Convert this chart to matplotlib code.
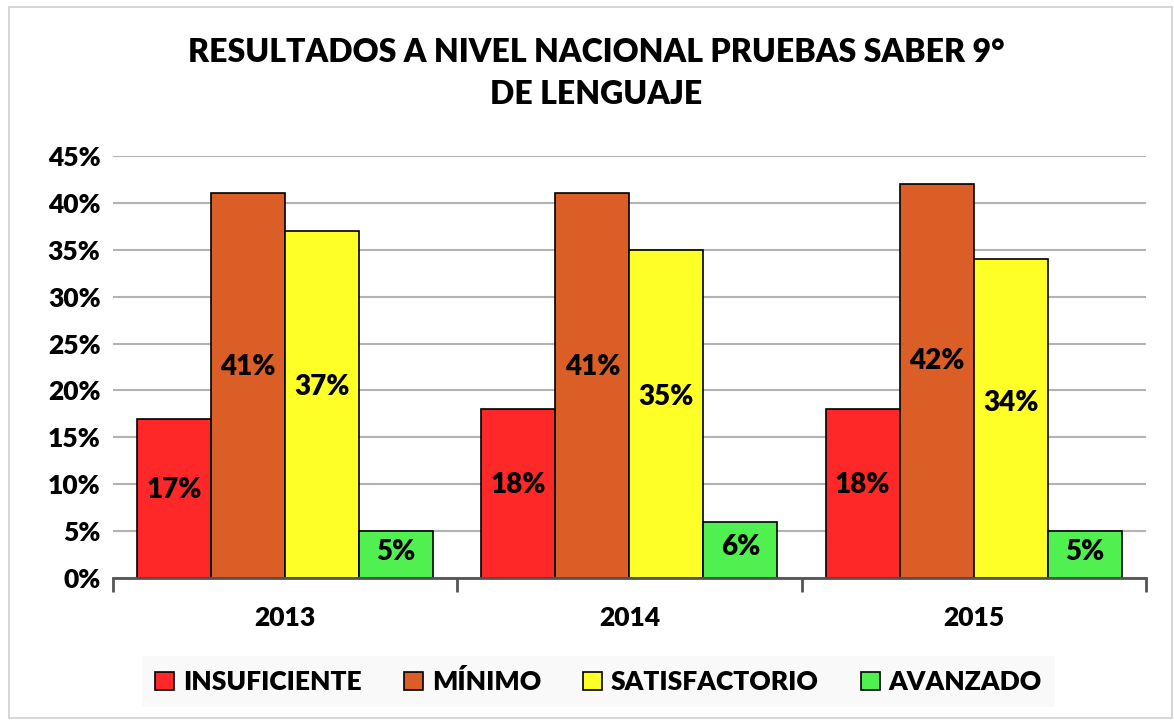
import matplotlib
matplotlib.use("Agg")
import matplotlib.pyplot as plt
import numpy as np
from matplotlib.patches import Rectangle

plt.rcParams['font.family'] = ['Lato', 'DejaVu Sans']
W = 'heavy'

years = ['2013', '2014', '2015']
series = ['INSUFICIENTE', 'MÍNIMO', 'SATISFACTORIO', 'AVANZADO']
insuficiente = [17, 18, 18]
minimo = [41, 41, 42]
satisfactorio = [37, 35, 34]
avanzado = [5, 6, 5]
colors = ['#FF2828', '#DA5E26', '#FFFF28', '#50F050']
yticks = [0, 5, 10, 15, 20, 25, 30, 35, 40, 45]

values = [insuficiente, minimo, satisfactorio, avanzado]

fig = plt.figure(figsize=(11.74, 7.22), dpi=100)
ax = fig.add_axes([0.0963, 0.1994, 0.8797, 0.5846])

x = np.arange(len(years))
bw = 0.215
for i, (name, vals, c) in enumerate(zip(series, values, colors)):
    pos = x + (i - 1.5) * bw
    ax.bar(pos, vals, width=bw, color=c, edgecolor='black', linewidth=1.2,
           label=name, zorder=3)
    for p, v in zip(pos, vals):
        ax.text(p, v * 0.55, f'{v}%', ha='center', va='center', fontsize=20,
                fontweight=W, color='black', zorder=4)

ax.set_xlim(-0.5, 2.5)
ax.set_ylim(0, 45)
ax.set_yticks(yticks)
ax.set_yticklabels([f'{t}%' for t in yticks], fontsize=19, fontweight=W)
ax.yaxis.grid(True, color='#b3b3b3', linewidth=1.5, zorder=0)
ax.tick_params(axis='y', length=0, pad=9)

ax.set_xticks([-0.5, 0.5, 1.5, 2.5])
ax.set_xticklabels([])
ax.tick_params(axis='x', which='major', length=10, width=2, color='#555555', direction='out')
ax.set_xticks(x, minor=True)
ax.set_xticklabels(years, minor=True, fontsize=19, fontweight=W)
ax.tick_params(axis='x', which='minor', length=0, pad=20)

for s in ['left', 'right', 'top']:
    ax.spines[s].set_visible(False)
ax.spines['bottom'].set_color('#555555')
ax.spines['bottom'].set_linewidth(2)
ax.spines['bottom'].set_zorder(5)

fig.text(0.508, 0.898, 'RESULTADOS A NIVEL NACIONAL PRUEBAS SABER 9°\nDE LENGUAJE',
         ha='center', va='center', fontsize=23, fontweight=W, linespacing=1.55)

leg = fig.legend(loc='center', bbox_to_anchor=(0.51, 0.056), ncol=4, frameon=True,
                 prop={'size': 19, 'weight': W}, handlelength=0.7, handleheight=0.7,
                 handletextpad=0.35, columnspacing=1.6, borderpad=0.5, fancybox=False)
leg.get_frame().set_facecolor('#f8f8f8')
leg.get_frame().set_edgecolor('none')

fig.patches.append(Rectangle((0.008, 0.005), 0.99, 0.985, transform=fig.transFigure,
                             fill=False, edgecolor='#d0d0d0', linewidth=1.2))

fig.savefig('out.png', dpi=100)
